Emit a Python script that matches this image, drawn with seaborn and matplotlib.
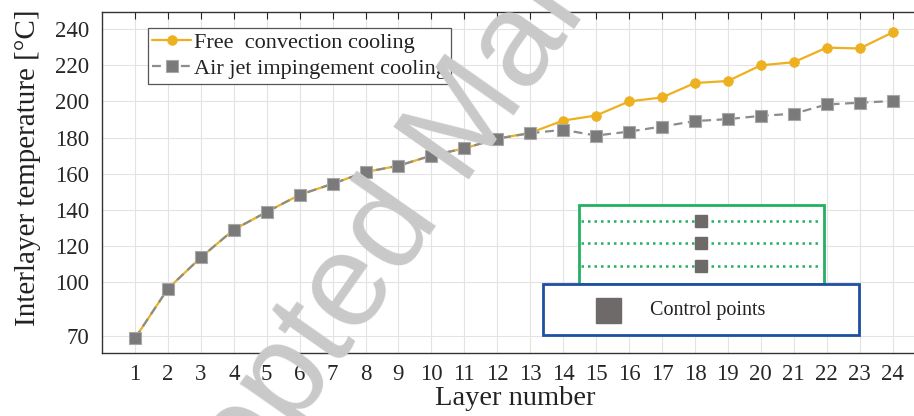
import numpy as np
import pandas as pd
import matplotlib
matplotlib.use("Agg")
import matplotlib.pyplot as plt
from matplotlib.patches import Rectangle
import seaborn as sns

layers = list(range(1, 25))
free_convection = [68.8, 96.3, 113.6, 129.0, 138.8, 148.3, 154.4, 160.9, 164.4, 170.0,
                   174.0, 179.4, 182.6, 189.4, 192.2, 200.0, 202.2, 210.2, 211.3, 220.0,
                   221.7, 229.8, 229.3, 238.2]
air_jet = [68.8, 96.3, 113.6, 129.0, 138.8, 148.3, 154.4, 160.9, 164.4, 170.0,
           174.0, 179.4, 182.4, 184.3, 181.1, 183.3, 186.1, 189.1, 190.2, 192.0,
           193.2, 198.3, 199.3, 200.2]
y_ticks = [70, 100, 120, 140, 160, 180, 200, 220, 240]
series_names = ["Free  convection cooling", "Air jet impingement cooling"]

sns.set_style("white")
plt.rcParams['font.family'] = ['Liberation Serif', 'DejaVu Serif']
plt.rcParams['mathtext.fontset'] = 'stix'

fig = plt.figure(figsize=(9.14, 4.16), dpi=100)
ax = fig.add_axes([102/914, 1-352.5/416, 1-102/914, (352.5-12)/416])

df_free = pd.DataFrame({"layer": layers, "temp": free_convection})
df_air = pd.DataFrame({"layer": layers, "temp": air_jet})

sns.lineplot(data=df_free, x="layer", y="temp", ax=ax, color="#EDB120", lw=1.6,
             marker="o", markersize=7, markeredgecolor="#EDB120", markeredgewidth=0.5,
             label=series_names[0], zorder=3)
sns.lineplot(data=df_air, x="layer", y="temp", ax=ax, color="#8c8c8c", lw=1.6,
             marker="s", markersize=8, markerfacecolor="#7a7a7a",
             markeredgecolor="#a8a8a8", markeredgewidth=0.8,
             label=series_names[1], zorder=4)
ax.lines[1].set_dashes([4, 2.5])

ax.set_xlim(0, 24.65)
ax.set_ylim(61, 249.5)
ax.set_xticks(layers)
ax.set_yticks(y_ticks)
ax.tick_params(axis='both', labelsize=16.5, colors="#262626", direction='in', length=5, width=0.8)
ax.tick_params(axis='x', top=True, pad=8)
ax.tick_params(axis='y', pad=9)
ax.grid(True, color="#e3e3e3", lw=0.8)
ax.set_axisbelow(True)
for s in ["left", "bottom", "top"]:
    ax.spines[s].set_color("#333333")
    ax.spines[s].set_linewidth(1.0)
ax.spines["right"].set_visible(False)

ax.set_xlabel("Layer number", fontsize=20.5, color="#222222")
ax.set_ylabel("Interlayer temperature [°C]", fontsize=21, color="#222222")
ax.xaxis.set_label_coords((515-102)/812, (352.5-386)/340.5)
ax.xaxis.label.set_va("top")
ax.yaxis.set_label_coords((41-102)/812, (352.5-168)/340.5)

leg = ax.legend(loc="upper left", bbox_to_anchor=((148-102)/812, (352.5-28)/340.5),
                borderaxespad=0, fontsize=16, frameon=True, fancybox=False,
                edgecolor="#555555", framealpha=1, handlelength=1.75,
                handletextpad=0.1, labelspacing=0.25, borderpad=0.2)
leg.get_frame().set_linewidth(0.9)
for t in leg.get_texts():
    t.set_color("#222222")

# inset schematic
tr = ax.transAxes
def fx(px):
    return (px - 102) / 812
def fy(py):
    return (352.5 - py) / 340.5

green = "#22b063"
blue = "#1f4fa0"
ax.add_patch(Rectangle((fx(578.7), fy(284.3)), fx(823.7)-fx(578.7), fy(205)-fy(284.3),
                       transform=tr, fill=True, facecolor="white", edgecolor=green, lw=2.0, zorder=5))
for py in [220.7, 243, 266]:
    ax.plot([fx(581), fx(821)], [fy(py), fy(py)], transform=tr, color=green, lw=1.8,
            ls=(0, (1, 1.6)), zorder=6)
    ax.plot([fx(701)], [fy(py)], transform=tr, marker="s", ms=9, color="#6e6a6a",
            mec="#6e6a6a", zorder=7, ls="none")
ax.add_patch(Rectangle((fx(543.3), fy(335)), fx(858.7)-fx(543.3), fy(284.3)-fy(335),
                       transform=tr, fill=True, facecolor="white", edgecolor=blue, lw=2.0, zorder=5))
ax.plot([fx(607.5)], [fy(310)], transform=tr, marker="s", ms=18, color="#6e6a6a",
        mec="#6e6a6a", zorder=7, ls="none")
ax.text(fx(650), fy(311), "Control points", transform=tr, fontsize=14.5, color="#222222",
        ha="left", va="center", zorder=7)

# watermark
fig.text(480/914, 1-164/416, "Accepted Manuscript", fontsize=96, color="#c9c9c9",
         family=["Liberation Sans", "DejaVu Sans"], rotation=55, rotation_mode="anchor",
         ha="center", va="baseline", zorder=20)

fig.savefig("out.png", dpi=100)
